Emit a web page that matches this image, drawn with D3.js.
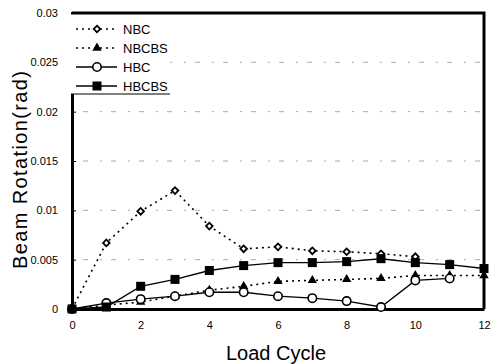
<!DOCTYPE html>
<html>
<head>
<meta charset="utf-8">
<script src="https://cdn.jsdelivr.net/npm/d3@7"></script>
<style>
  body { margin: 0; background: #fff; }
  svg { font-family: "Liberation Sans", Arial, sans-serif; }
</style>
</head>
<body>
<svg width="497" height="364"></svg>
<script>
// data
const cycles = [0, 1, 2, 3, 4, 5, 6, 7, 8, 9, 10, 11, 12];
const nbc = [0, 0.0067, 0.0099, 0.0120, 0.0084, 0.0061, 0.0063, 0.0059, 0.0058, 0.0056, 0.0053];
const nbcbs = [0, 0.0004, 0.0007, 0.0013, 0.0019, 0.0023, 0.0028, 0.0029, 0.0030, 0.0031, 0.0034, 0.0034, 0.0034];
const hbc = [0, 0.0006, 0.0010, 0.0013, 0.0017, 0.0017, 0.0013, 0.0011, 0.0008, 0.0002, 0.0029, 0.0031];
const hbcbs = [0, 0.0002, 0.0023, 0.0030, 0.0039, 0.0044, 0.0047, 0.0047, 0.0048, 0.0051, 0.0047, 0.0045, 0.0041];
const xTicks = [0, 2, 4, 6, 8, 10, 12];
const yTicks = [0, 0.005, 0.01, 0.015, 0.02, 0.025, 0.03];
const seriesNames = ['NBC', 'NBCBS', 'HBC', 'HBCBS'];

let svg = d3.select('svg');
let padding = { top: 13, right: 13, bottom: 55, left: 72 };
let chartArea = {
  width: 497 - padding.left - padding.right,
  height: 364 - padding.top - padding.bottom,
};

let xScale = d3.scaleLinear().domain([0, 12]).range([0, chartArea.width]);
let yScale = d3.scaleLinear().domain([0, 0.03]).range([chartArea.height, 0]);

let g = svg.append('g')
  .attr('transform', 'translate(' + padding.left + ',' + padding.top + ')');

// faint broken grid lines
g.append('g')
  .selectAll('line')
  .data(yTicks.slice(1, 6))
  .enter()
  .append('line')
  .attr('x1', 0)
  .attr('x2', chartArea.width)
  .attr('y1', d => yScale(d))
  .attr('y2', d => yScale(d))
  .attr('stroke', '#aaa')
  .attr('stroke-width', 1)
  .attr('stroke-dasharray', '2,9,5,12');

// frame top & right
g.append('path')
  .attr('d', 'M0,0H' + chartArea.width + 'V' + chartArea.height)
  .attr('fill', 'none')
  .attr('stroke', '#000')
  .attr('stroke-width', 3);

// x axis
let xAxis = g.append('g')
  .attr('transform', 'translate(0,' + chartArea.height + ')')
  .call(d3.axisBottom(xScale).tickValues(xTicks).tickSize(0).tickPadding(12).tickFormat(d3.format('d')));
xAxis.select('.domain').attr('stroke-width', 3);
xAxis.selectAll('text').attr('font-size', 11).attr('font-family', '"Liberation Sans", Arial, sans-serif');

// y axis, ticks pointing inside
let yAxis = g.append('g')
  .call(d3.axisRight(yScale).tickValues(yTicks).tickSize(4).tickFormat(d => d === 0 ? '0' : String(+d.toFixed(3))));
yAxis.select('.domain').attr('stroke-width', 3);
yAxis.selectAll('text')
  .attr('x', -14)
  .attr('text-anchor', 'end')
  .attr('font-size', 11)
  .attr('font-family', '"Liberation Sans", Arial, sans-serif');

// lines
let line = d3.line()
  .x((d, i) => xScale(cycles[i]))
  .y(d => yScale(d));

let styles = [
  { data: nbc, dash: '2,4', width: 1.6, marker: 'diamond' },
  { data: nbcbs, dash: '2,4', width: 1.6, marker: 'triangle' },
  { data: hbc, dash: null, width: 1.4, marker: 'circle' },
  { data: hbcbs, dash: null, width: 1.4, marker: 'square' },
];

function drawMarker(sel, type) {
  if (type === 'diamond') {
    sel.append('path').attr('d', d3.symbol(d3.symbolSquare, 22)()).attr('transform', 'rotate(45)')
      .attr('fill', '#fff').attr('stroke', '#000').attr('stroke-width', 1.8);
  } else if (type === 'triangle') {
    sel.append('path').attr('d', d3.symbol(d3.symbolTriangle, 38)())
      .attr('fill', '#000');
  } else if (type === 'circle') {
    sel.append('circle').attr('r', 4.2)
      .attr('fill', '#fff').attr('stroke', '#000').attr('stroke-width', 1.6);
  } else {
    sel.append('rect').attr('x', -4.5).attr('y', -4.5).attr('width', 9).attr('height', 9)
      .attr('fill', '#000');
  }
}

styles.forEach(function (s) {
  g.append('path')
    .datum(s.data)
    .attr('d', line)
    .attr('fill', 'none')
    .attr('stroke', '#000')
    .attr('stroke-width', s.width)
    .attr('stroke-dasharray', s.dash);
});

styles.forEach(function (s) {
  g.append('g')
    .selectAll('g')
    .data(s.data)
    .enter()
    .append('g')
    .attr('transform', (d, i) => 'translate(' + xScale(cycles[i]) + ',' + yScale(d) + ')')
    .each(function () { drawMarker(d3.select(this), s.marker); });
});

// legend box: white patch, thin rules top and bottom only
let legend = g.append('g');
legend.append('rect')
  .attr('x', -3).attr('y', 1).attr('width', 101).attr('height', 80)
  .attr('fill', '#fff');
legend.append('line').attr('x1', -1).attr('x2', 98).attr('y1', 1).attr('y2', 1)
  .attr('stroke', '#000').attr('stroke-width', 1);
legend.append('line').attr('x1', -1).attr('x2', 98).attr('y1', 81).attr('y2', 81)
  .attr('stroke', '#000').attr('stroke-width', 1);
let legendY = [16, 35, 54, 73];
styles.forEach(function (s, i) {
  let row = legend.append('g').attr('transform', 'translate(0,' + legendY[i] + ')');
  row.append('line')
    .attr('x1', 4).attr('x2', 45).attr('y1', 0).attr('y2', 0)
    .attr('stroke', '#000').attr('stroke-width', s.width)
    .attr('stroke-dasharray', s.dash);
  drawMarker(row.append('g').attr('transform', 'translate(25,0)'), s.marker);
  row.append('text')
    .attr('x', 51).attr('y', 5)
    .attr('font-size', 13)
    .text(seriesNames[i]);
});

// axis titles
svg.append('text')
  .attr('x', 276)
  .attr('y', 360)
  .attr('text-anchor', 'middle')
  .attr('font-size', 20)
  .text('Load Cycle');

svg.append('text')
  .attr('transform', 'translate(27,170) rotate(-90)')
  .attr('text-anchor', 'middle')
  .attr('font-size', 20)
  .attr('textLength', 198)
  .attr('lengthAdjust', 'spacing')
  .text('Beam Rotation(rad)');
</script>
</body>
</html>
